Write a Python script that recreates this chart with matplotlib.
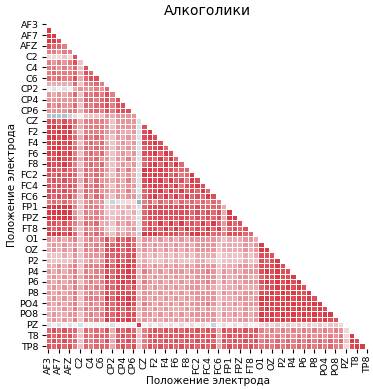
import numpy as np
import matplotlib
matplotlib.use("Agg")
import matplotlib.pyplot as plt
import seaborn as sns

electrodes = ["AF3", "AF4", "AF7", "AF8", "AFZ", "C1", "C2", "C3", "C4", "C5", "C6",
              "CP1", "CP2", "CP3", "CP4", "CP5", "CP6", "CPZ", "CZ",
              "F1", "F2", "F3", "F4", "F5", "F6", "F7", "F8",
              "FC1", "FC2", "FC3", "FC4", "FC5", "FC6", "FCZ",
              "FP1", "FP2", "FPZ", "FT7", "FT8", "FZ",
              "O1", "O2", "OZ", "P1", "P2", "P3", "P4", "P5", "P6", "P7", "P8",
              "PO3", "PO4", "PO7", "PO8", "POZ", "PZ", "T7", "T8", "TP7", "TP8"]

title = "Алкоголики"
axis_label = "Положение электрода"

# lower-triangle correlation levels (row i, columns 0..i-1)
# digits: 0.0 .. 0.9 ; a = -0.1, b = -0.2, c = -0.3, d = -0.4
corr_rows = [
    "8",
    "88",
    "887",
    "7665",
    "55455",
    "111217",
    "5454572",
    "55454627",
    "565556376",
    "6565573677",
    "33333625565",
    "0a0a03444546",
    "4343462656575",
    "44444536656757",
    "545446265667577",
    "4444553566575777",
    "ccccb102222434444",
    "77676635555424444a",
    "88788535555424444a7",
    "87878525555434334a78",
    "88787636565324343a787",
    "87878525656323434a7787",
    "78877636565424343a67786",
    "87878525656323434a778687",
    "77877636564424353a6768686",
    "87787525656323434a67868686",
    "77676636565425353a887877666",
    "76767626565324343a8787867568",
    "67676636464434353a78786867587",
    "76767626565324344a778786857787",
    "77676636564434353a6778686867686",
    "76767526465324344b67868686867687",
    "56565" "424544" "aba111" "d" "564656465656565",
    "88888" "525554" "223232" "a" "6777777776766663",
    "88888" "425454" "222323" "a" "67777777767676738",
    "88888" "525554" "323332" "a" "677777777676767388",
    "77676" "536563" "324343" "a" "6768686867686864767",
    "76767" "425454" "213234" "a" "67768686867686846767",
    "88878" "626565" "324343" "b" "888777766887766577766",
    "43434" "524545" "747676" "2" "4" "434343434444432333443",
    "34343" "425454" "767676" "2" "4" "343434343444423333434" "8",
    "34343" "525454" "777677" "3" "4" "343434343444423333434" "88",
    "22232" "424444" "767677" "2" "3" "232323232333312222323" "777",
    "22222" "423434" "757677" "2" "3" "222323222332212222322" "7678",
    "33434" "525555" "868787" "3" "4" "343434343444423334434" "77787",
    "43434" "525455" "767787" "2" "5" "434344434445424343444" "787877",
    "34343" "535554" "868787" "3" "4" "343434343444424334433" "6778778",
    "43434" "524545" "767878" "2" "5" "434343434445424343444" "78787878",
    "34343" "535454" "767767" "3" "4" "343434344434323334333" "677878787",
    "43434" "524545" "767777" "2" "4" "434343434444424343443" "7787878778",
    "34343" "525554" "868787" "3" "4" "343434343444423334434" "88787878787",
    "43434" "524545" "767787" "2" "5" "434343434445424343444" "878787878788",
    "33343" "535454" "767676" "3" "4" "343433343434323333433" "7878787878787",
    "34334" "424545" "767677" "2" "4" "434343434444424343434" "87878787878788",
    "34343" "525454" "868787" "3" "4" "343434343444423334434" "888787878787877",
    "a0a0a" "0a0000" "0a0000" "8" "0" "101010101010b01010100" "1212121212121221",
    "67676" "626565" "737676" "2" "5" "676767676767637676767" "5454545454545454" "1",
    "76767" "526566" "636767" "2" "5" "767676767676736767676" "4545454545454545" "1" "8",
    "67676" "626565" "737676" "2" "5" "676767676767637676767" "5656565656565656" "2" "8" "7",
    "76767" "526566" "636767" "2" "5" "767676767676736767676" "5656565656565655" "1" "7" "8" "8",
]

level = {str(d): d / 10 for d in range(10)}
level.update({"a": -0.1, "b": -0.2, "c": -0.3, "d": -0.4})

n = len(electrodes)
corr = np.eye(n)
for i, row in enumerate(corr_rows, start=1):
    for j, ch in enumerate(row[:i]):
        corr[i, j] = corr[j, i] = level[ch]

mask = np.triu(np.ones_like(corr, dtype=bool))

W, H = 373, 389
fig = plt.figure(figsize=(W / 100, H / 100), dpi=100)
ax = fig.add_axes([45.5 / W, 1 - 348.8 / H, 324.5 / W, 327 / H])
cmap = sns.diverging_palette(220, 10, as_cmap=True)
sns.heatmap(corr, mask=mask, cmap=cmap, vmin=-0.8, vmax=0.8, center=0,
            linewidths=0.5, linecolor="white", cbar=False, ax=ax,
            xticklabels=False, yticklabels=False)

ticks = np.arange(0, n, 2) + 0.5
ax.set_xticks(ticks)
ax.set_xticklabels(electrodes[::2], rotation=90, fontsize=6.8)
ax.set_yticks(ticks)
ax.set_yticklabels(electrodes[::2], rotation=0, fontsize=6.8)
ax.tick_params(length=3, width=0.8, pad=2)
ax.set_xlabel(axis_label, fontsize=7.5, labelpad=1)
ax.set_ylabel(axis_label, fontsize=7.5, labelpad=2)
ax.set_title(title, fontsize=10, pad=5)

fig.savefig("out.png", dpi=100)
